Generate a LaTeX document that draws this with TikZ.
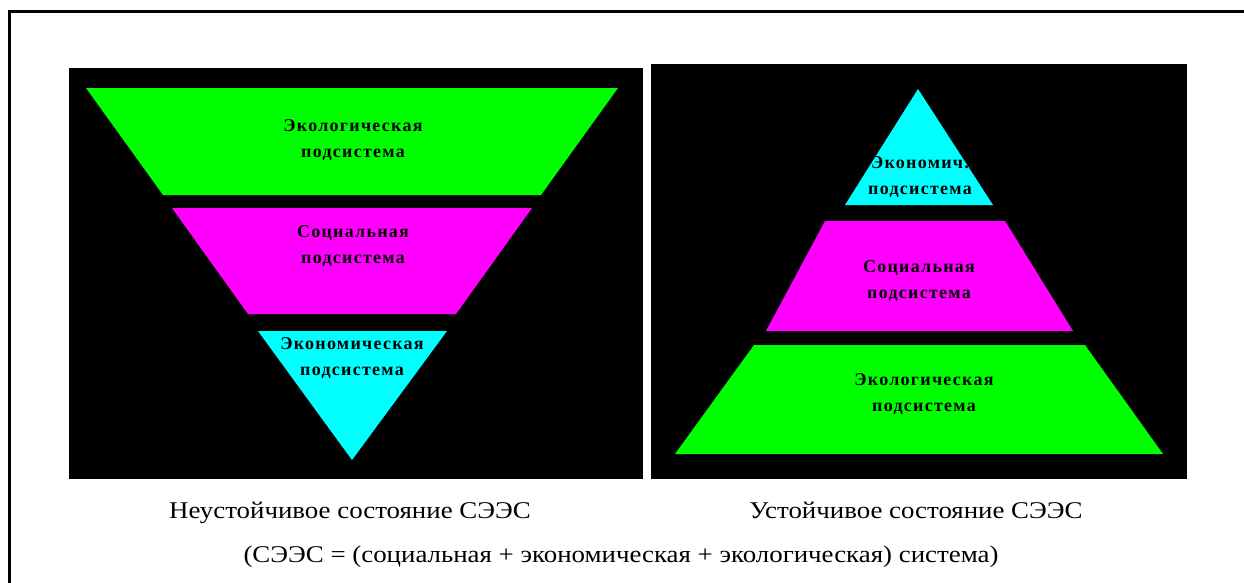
\documentclass[tikz,border=0pt]{standalone}
\usepackage{fontspec}
\setmainfont{Liberation Serif}
\newfontfamily\layerfont[LetterSpace=7]{Liberation Serif}
\newfontfamily\captfont[FakeStretch=1.12]{Liberation Serif}
\usetikzlibrary{positioning}

\definecolor{ecogreen}{RGB}{0,255,0}
\definecolor{socmagenta}{RGB}{255,0,255}
\definecolor{ecocyan}{RGB}{0,255,255}

\tikzset{
  panel/.style={fill=black},
  layer/.style={align=center, font=\layerfont\bfseries\fontsize{18}{26}\selectfont, inner sep=0pt},
  caption/.style={anchor=base, font=\captfont\fontsize{24}{26}\selectfont, inner sep=0pt}
}

\begin{document}
\begin{tikzpicture}[x=1pt,y=-1pt]
  \useasboundingbox (0,0) rectangle (1244,582);
  % frame, cut at right and bottom
  \draw[line width=3pt] (9.5,600) -- (9.5,11.5) -- (1260,11.5);

  % unstable (inverted) pyramid
  \fill[panel] (69,68) rectangle (643,479);
  \fill[ecogreen] (86,88) -- (618,88) -- (541,195) -- (163,195) -- cycle;
  \fill[socmagenta] (172,208) -- (532,208) -- (456,314) -- (248,314) -- cycle;
  \fill[ecocyan] (258,331) -- (447,331) -- (352,460) -- cycle;

  % stable pyramid
  \fill[panel] (651,64) rectangle (1187,479);
  \fill[ecocyan] (918,89) -- (993,205) -- (845,205) -- cycle;
  \fill[socmagenta] (825,221) -- (1005,221) -- (1073,331) -- (766,331) -- cycle;
  \fill[ecogreen] (754,345) -- (1085,345) -- (1163,454) -- (675,454) -- cycle;

  % layer labels
  \node[layer] (ueco) at (353,140) {Экологическая\\подсистема};
  \node[layer] (usoc) at (353,246) {Социальная\\подсистема};
  \node[layer] (uecon) at (352,358) {Экономическая\\подсистема};

  \node[layer] (secon) at (920,177) {Экономич.\\подсистема};
  \node[layer] (ssoc) at (919,281) {Социальная\\подсистема};
  \node[layer] (seco) at (924,394) {Экологическая\\подсистема};

  % captions
  \node[caption] (ucap) at (350,518) {Неустойчивое состояние СЭЭС};
  \node[caption] (scap) at (916,518) {Устойчивое состояние СЭЭС};
  \node[caption] (note) at (621,562) {(СЭЭС = (социальная + экономическая + экологическая) система)};
\end{tikzpicture}
\end{document}
